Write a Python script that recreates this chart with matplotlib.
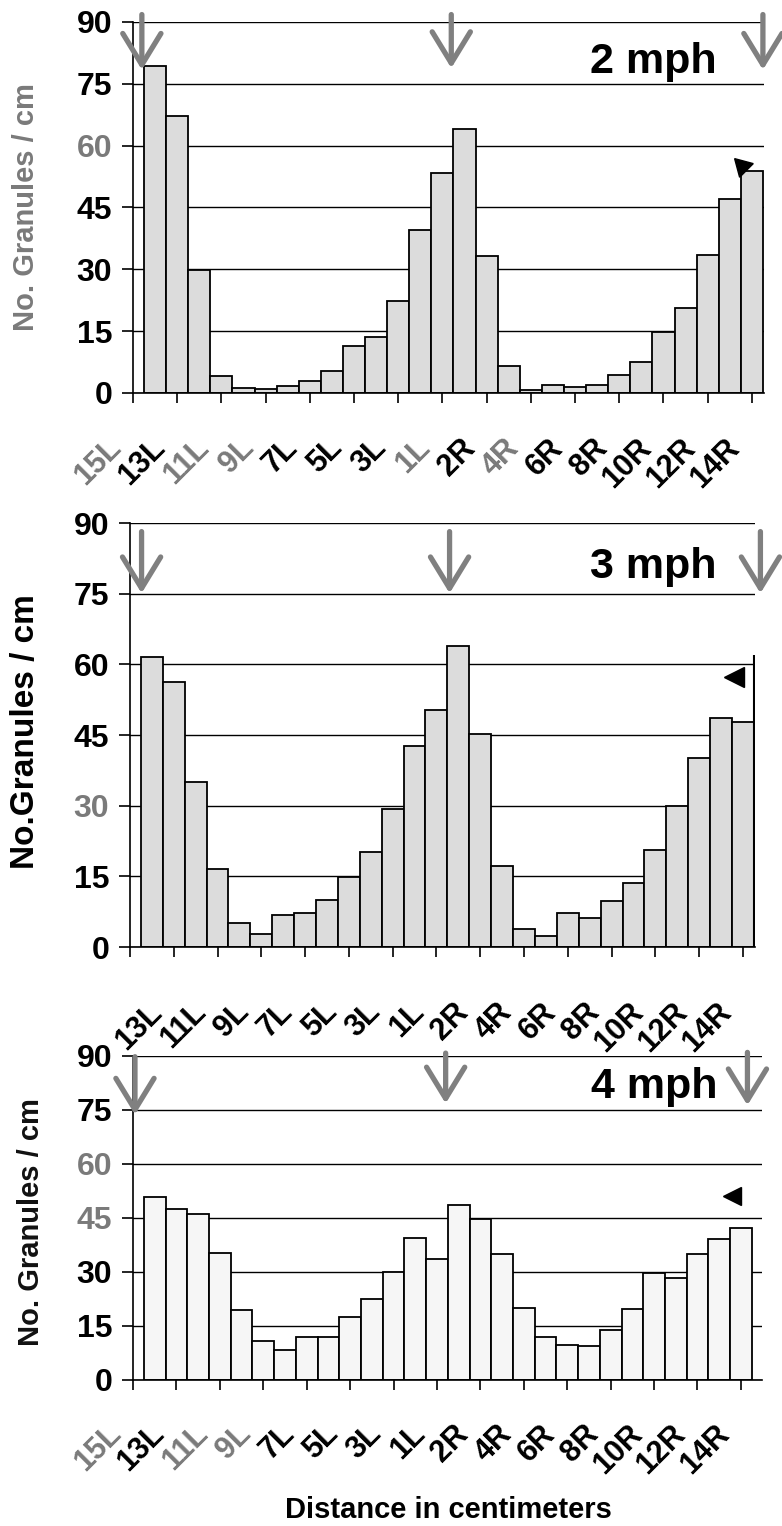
import numpy as np
import matplotlib.pyplot as plt
from matplotlib.transforms import ScaledTranslation

plt.rcParams['font.family'] = ['Liberation Sans', 'DejaVu Sans']
plt.rcParams['font.weight'] = 'bold'

# category tick labels (every other position)
labels_all = ['15L', '13L', '11L', '9L', '7L', '5L', '3L', '1L',
              '2R', '4R', '6R', '8R', '10R', '12R', '14R']
labels_3mph = [''] + labels_all[1:]

# granules per cm
g2 = [79.4, 67.3, 29.9, 4.0, 1.2, 1.0, 1.8, 2.8, 5.4, 11.5, 13.6, 22.4, 39.5, 53.4,
      64.0, 33.2, 6.5, 0.6, 1.9, 1.5, 1.9, 4.3, 7.4, 14.8, 20.6, 33.5, 47.1, 53.8]
g3 = [61.5, 56.3, 35.1, 16.5, 5.2, 2.8, 6.7, 7.3, 9.9, 14.8, 20.1, 29.2, 42.6, 50.4,
      63.9, 45.3, 17.1, 3.8, 2.3, 7.2, 6.2, 9.7, 13.6, 20.6, 30.0, 40.2, 48.7, 47.8]
g4 = [50.9, 47.4, 46.0, 35.3, 19.5, 10.8, 8.4, 11.9, 11.9, 17.6, 22.6, 30.1, 39.4, 33.6,
      48.5, 44.8, 35.1, 19.9, 11.8, 9.8, 9.5, 14.0, 19.6, 29.6, 28.4, 35.1, 39.1, 42.1]

yticks = [0, 15, 30, 45, 60, 75, 90]

GRAY = '#7a7a7a'

panels = [
    dict(vals=g2, title='2 mph', labels=labels_all, rect=[0.1701, 0.7425, 0.8069, 0.2431],
         xmax=28.05, face='#dcdcdc', ylab='No. Granules / cm', ylab_color=GRAY, ylab_size=21,
         ylab_xy=(26, 207), lab_dy=40, gray_labels=['15L', '11L', '9L', '1L', '4R'],
         gray_y=[60], title_x=25.9, title_y=77.6,
         arrows=[(-0.1, 91.8, 78.4), (13.9, 91.8, 78.8), (28.0, 91.8, 78.4)],
         marker=(27.04, 55.0, (3, 0, 45), 16)),
    dict(vals=g3, title='3 mph', labels=labels_3mph, rect=[0.1662, 0.3794, 0.7992, 0.2778],
         xmax=28.05, face='#dcdcdc', ylab='No.Granules / cm', ylab_color='black', ylab_size=24,
         ylab_xy=(26, 732), lab_dy=50, gray_labels=[], gray_y=[30],
         title_x=26.3, title_y=78.3,
         arrows=[(0.03, 88.2, 75.1), (14.1, 88.2, 75.1), (28.3, 88.2, 75.1)],
         marker=(27.1, 57.3, '<', 14), right_line=62),
    dict(vals=g4, title='4 mph', labels=labels_all, rect=[0.1701, 0.0957, 0.8043, 0.2123],
         xmax=28.47, face='#f6f6f6', ylab='No. Granules / cm', ylab_color='#111111', ylab_size=21,
         ylab_xy=(31, 1222), lab_dy=39, gray_labels=['15L', '11L', '9L'], gray_y=[60, 45],
         title_x=26.4, title_y=78.3,
         arrows=[(-0.41, 89.8, 73.7), (13.9, 90.8, 76.8), (27.8, 91.0, 76.3)],
         marker=(27.1, 51.2, '<', 13)),
]

W, H = 782, 1526
fig = plt.figure(figsize=(W / 100, H / 100), dpi=100)

for p in panels:
    ax = fig.add_axes(p['rect'])
    vals = p['vals']
    x = np.arange(len(vals))
    ax.bar(x, vals, width=1.0, align='edge', color=p['face'], edgecolor='black',
           linewidth=1.3, zorder=2)

    ax.set_xlim(-0.5, p['xmax'])
    ax.set_ylim(0, 90)
    ax.set_yticks(yticks)
    ax.yaxis.grid(True, color='black', linewidth=1.0, zorder=0)
    ax.set_axisbelow(True)
    for s in ['top', 'right']:
        ax.spines[s].set_visible(False)
    ax.spines['left'].set_linewidth(1.2)
    ax.spines['bottom'].set_linewidth(1.2)

    ax.tick_params(axis='y', direction='out', length=8, width=1.2, pad=7, labelsize=23)
    for t in ax.get_yticklabels():
        t.set_fontweight('bold')
        if int(float(t.get_text().replace('\u2212', '-'))) in p['gray_y']:
            t.set_color(GRAY)

    ticks = np.arange(-0.5, len(vals), 2)
    ax.set_xticks(ticks)
    ax.set_xticklabels([''] * len(ticks))
    ax.tick_params(axis='x', direction='out', length=7, width=1.2)

    # rotated category labels
    off = ScaledTranslation(-0.27, -p['lab_dy'] / 100, fig.dpi_scale_trans)
    for tx, lab in zip(ticks, p['labels']):
        ax.text(tx, 0, lab, transform=ax.get_xaxis_transform() + off,
                rotation=45, rotation_mode='anchor', ha='right', va='top',
                fontsize=22, fontweight='bold',
                color=GRAY if lab in p['gray_labels'] else 'black')

    ax.text(p['title_x'], p['title_y'], p['title'], ha='right', va='baseline',
            fontsize=31, fontweight='bold', zorder=5)

    for ax_x, top, tip in p['arrows']:
        ax.annotate('', xy=(ax_x, tip), xytext=(ax_x, top),
                    arrowprops=dict(arrowstyle='->,head_length=0.9,head_width=0.55',
                                    color='#808080', lw=3.8, shrinkA=0, shrinkB=0,
                                    mutation_scale=25),
                    annotation_clip=False, zorder=6)

    mx, my, mk, ms = p['marker']
    ax.plot([mx], [my], marker=mk, markersize=ms, color='black', linestyle='none',
            clip_on=False, zorder=6)

    if 'right_line' in p:
        ax.vlines(len(vals), 0, p['right_line'], color='black', linewidth=1.5, zorder=3)

    fig.text(p['ylab_xy'][0] / W, 1 - p['ylab_xy'][1] / H, p['ylab'], rotation=90,
             ha='center', va='center', fontsize=p['ylab_size'], fontweight='bold',
             color=p['ylab_color'])

fig.text(448 / W, 1 - 1518 / H, 'Distance in centimeters', ha='center', va='baseline',
         fontsize=21, fontweight='bold')

fig.savefig('out.png', dpi=100, facecolor='white')
